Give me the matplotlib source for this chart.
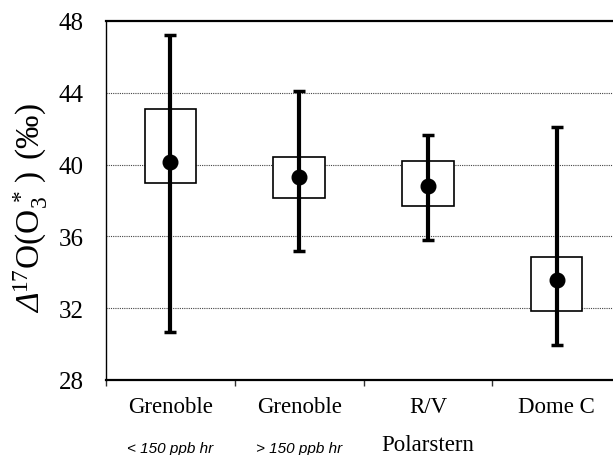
#!/usr/bin/env python3

import matplotlib
matplotlib.use("Agg")
import matplotlib.pyplot as plt
import numpy as np

# data
sites = ['Grenoble', 'Grenoble', 'R/V', 'Dome C']
sub_labels = ['< 150 ppb hr', '> 150 ppb hr', 'Polarstern', '']
means = np.array([40.16, 39.29, 38.79, 33.57])
box_low = np.array([38.99, 38.16, 37.68, 31.86])
box_high = np.array([43.12, 40.41, 40.18, 34.87])
err_low = np.array([30.66, 35.17, 35.78, 29.97])
err_high = np.array([47.22, 44.10, 41.67, 42.09])
yticks = [28, 32, 36, 40, 44, 48]

plt.rcParams['font.family'] = 'Liberation Serif'
plt.rcParams['mathtext.fontset'] = 'custom'
plt.rcParams['mathtext.rm'] = 'Liberation Serif'
plt.rcParams['mathtext.it'] = 'Liberation Serif:italic'

fig = plt.figure(figsize=(6.13, 4.56), dpi=100)
# axes runs past the right edge of the picture, like the original crop
ax = fig.add_axes([106/613, 75/456, 515/613, 359/456])

x = np.arange(len(sites))

# boxes
ax.bar(x, box_high - box_low, bottom=box_low, width=0.4,
       facecolor='white', edgecolor='black', linewidth=1.2, zorder=2)
# whiskers
ax.errorbar(x, means, yerr=[means - err_low, err_high - means], fmt='none',
            ecolor='black', elinewidth=3, capsize=4, capthick=2.5, zorder=3)
ax.plot(x, means, 'o', color='black', markersize=10.5, zorder=4)

ax.set_xlim(-0.5, 3.5)
ax.set_ylim(28, 48)
ax.set_yticks(yticks)
ax.set_yticklabels([str(t) for t in yticks], fontsize=18)
ax.tick_params(axis='y', length=0, pad=16)

ax.set_xticks(np.arange(-0.5, 3.6, 1))
ax.set_xticklabels([])
ax.tick_params(axis='x', direction='out', length=4, width=1, color='#333333')

# grid lines
for t in yticks[1:-1]:
    ax.axhline(t, color='#444444', linestyle=(0, (1, 1)), linewidth=0.8, zorder=0)

ax.spines['top'].set_linewidth(1.6)
ax.spines['bottom'].set_linewidth(1.6)
ax.spines['left'].set_linewidth(1.0)
ax.spines['right'].set_linewidth(1.6)

for i in range(len(sites)):
    ax.text(x[i], -0.075, sites[i], transform=ax.get_xaxis_transform(),
            ha='center', va='center', fontsize=16.5)
    if sub_labels[i] == 'Polarstern':
        ax.text(x[i], -0.18, sub_labels[i], transform=ax.get_xaxis_transform(),
                ha='center', va='center', fontsize=16.5)
    elif sub_labels[i]:
        ax.text(x[i], -0.19, sub_labels[i], transform=ax.get_xaxis_transform(),
                ha='center', va='center', fontsize=11, style='italic',
                family='Liberation Sans')

# y label: italic Delta drawn on its own (mathtext keeps Greek capitals upright)
lab_x = 40/613
lab_y = 1 - 313/456
d = fig.text(lab_x, lab_y, 'Δ', rotation=90, rotation_mode='anchor',
             ha='left', va='baseline', fontsize=24, style='italic')
bb = d.get_window_extent(renderer=fig.canvas.get_renderer())
fig.text(lab_x, lab_y + bb.height / fig.bbox.height,
         r'$^{17}$O(O$_3^{\,*}$$\,$) $\,$(‰)', rotation=90, rotation_mode='anchor',
         ha='left', va='baseline', fontsize=24)

plt.savefig("out.png", dpi=100)
